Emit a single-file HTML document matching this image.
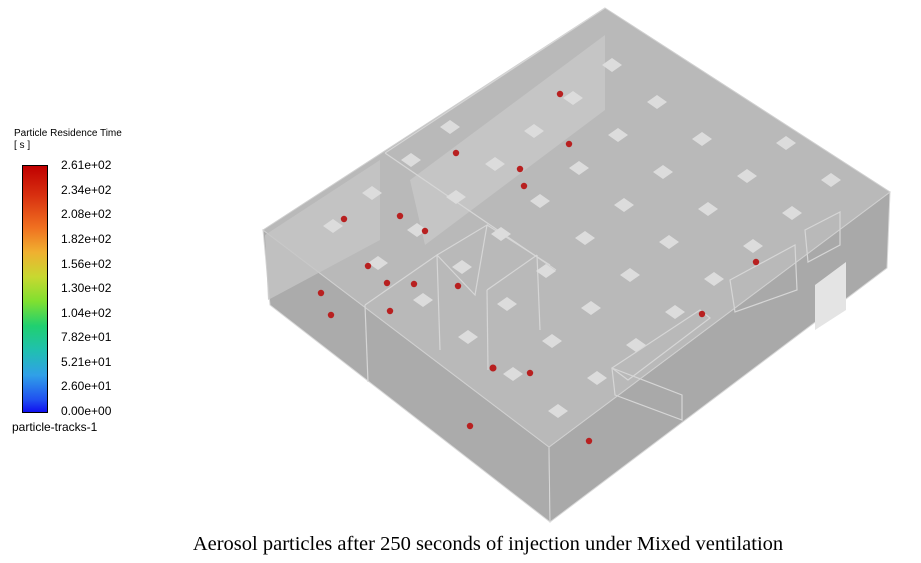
<!DOCTYPE html>
<html><head><meta charset="utf-8"><style>
body{margin:0;width:921px;height:563px;background:#fff;overflow:hidden;position:relative;font-family:"Liberation Sans",sans-serif}
.t{position:absolute;font-size:12px;color:#000}
</style></head><body>
<div class="t" style="left:14px;top:128px;font-size:10px">Particle Residence Time</div>
<div class="t" style="left:14px;top:140px;font-size:10px">[ s ]</div>
<div style="position:absolute;left:22px;top:165px;width:24px;height:246px;border:1px solid #000;background:linear-gradient(#c00000,#d83010 12%,#f07020 25%,#f0b030 35%,#c8d830 45%,#80e030 55%,#20d070 65%,#20c0b0 75%,#30a0e8 85%,#2050f0 95%,#1010f0)"></div>
<div class="t" style="left:61px;top:158px">2.61e+02</div>
<div class="t" style="left:61px;top:183px">2.34e+02</div>
<div class="t" style="left:61px;top:207px">2.08e+02</div>
<div class="t" style="left:61px;top:232px">1.82e+02</div>
<div class="t" style="left:61px;top:257px">1.56e+02</div>
<div class="t" style="left:61px;top:281px">1.30e+02</div>
<div class="t" style="left:61px;top:306px">1.04e+02</div>
<div class="t" style="left:61px;top:330px">7.82e+01</div>
<div class="t" style="left:61px;top:355px">5.21e+01</div>
<div class="t" style="left:61px;top:379px">2.60e+01</div>
<div class="t" style="left:61px;top:404px">0.00e+00</div>
<div class="t" style="left:12px;top:420px">particle-tracks-1</div>
<svg width="921" height="563" style="position:absolute;left:0;top:0">
<polygon points="263,230 549,447 550,522 270,305" fill="#ababab" stroke="#d8d8d8"/>
<polygon points="549,447 890,192 887,268 550,522" fill="#a9a9a9" stroke="#d8d8d8"/>
<polygon points="605,8 890,192 549,447 263,230" fill="#b9b9b9" stroke="#d0d0d0"/>
<polygon points="605,35 605,110 425,245 410,180" fill="#c8c8c8" opacity=".8"/>
<polygon points="380,160 380,240 268,300 265,235" fill="#c6c6c6" opacity=".8"/>
<g stroke="#d6d6d6" fill="none" stroke-width="1.2">
<line x1="385" y1="153" x2="556" y2="270"/>
<line x1="385" y1="153" x2="605" y2="8"/>
<polyline points="365,305 437,255 440,350"/>
<polyline points="437,255 487,225 475,295 437,255"/>
<line x1="487" y1="225" x2="550" y2="265"/>
<line x1="487" y1="290" x2="537" y2="255"/>
<line x1="487" y1="290" x2="488" y2="370"/>
<line x1="365" y1="305" x2="368" y2="382"/>
<line x1="537" y1="255" x2="540" y2="330"/>
<polygon points="612,368 700,310 710,318 628,380"/>
<polygon points="730,280 795,245 797,290 735,312"/>
<polygon points="805,230 840,212 840,245 808,262"/>
<polyline points="612,368 615,395 682,420 682,395 612,368"/>
</g>
<g fill="#dcdcdc" id="d"></g>
<g fill="#b82020">
<circle cx="560" cy="94" r="3.2"/><circle cx="456" cy="153" r="3.2"/><circle cx="569" cy="144" r="3.2"/><circle cx="520" cy="169" r="3.2"/><circle cx="524" cy="186" r="3.2"/><circle cx="344" cy="219" r="3.2"/><circle cx="400" cy="216" r="3.2"/><circle cx="425" cy="231" r="3.2"/><circle cx="368" cy="266" r="3.2"/><circle cx="458" cy="286" r="3.2"/><circle cx="387" cy="283" r="3.2"/><circle cx="414" cy="284" r="3.2"/><circle cx="321" cy="293" r="3.2"/><circle cx="331" cy="315" r="3.2"/><circle cx="390" cy="311" r="3.2"/><circle cx="493" cy="368" r="3.5"/><circle cx="530" cy="373" r="3.2"/><circle cx="702" cy="314" r="3.2"/><circle cx="756" cy="262" r="3.2"/><circle cx="470" cy="426" r="3.2"/><circle cx="589" cy="441" r="3.2"/>
</g>
<polygon points="815,285 846,262 846,310 815,330" fill="#e4e4e4"/>
<text x="488" y="550" text-anchor="middle" font-family="Liberation Serif,serif" font-size="20.5">Aerosol particles after 250 seconds of injection under Mixed ventilation</text>
</svg>
<script>
var g=document.getElementById('d'),s='';
function inside(x,y){var P=[[600,25],[870,196],[549,435],[290,235]],c=false;for(var i=0,j=3;i<4;j=i++){var a=P[i],b=P[j];if(((a[1]>y)!=(b[1]>y))&&(x<(b[0]-a[0])*(y-a[1])/(b[1]-a[1])+a[0]))c=!c;}return c;}
for(var i=-4;i<12;i++)for(var j=-4;j<12;j++){var x=612+i*45-j*39,y=65+i*37+j*33;if(inside(x,y))s+='<polygon points="'+(x-10)+','+y+' '+x+','+(y-7)+' '+(x+10)+','+y+' '+x+','+(y+7)+'"/>';}
g.innerHTML=s;
</script>
</body></html>
